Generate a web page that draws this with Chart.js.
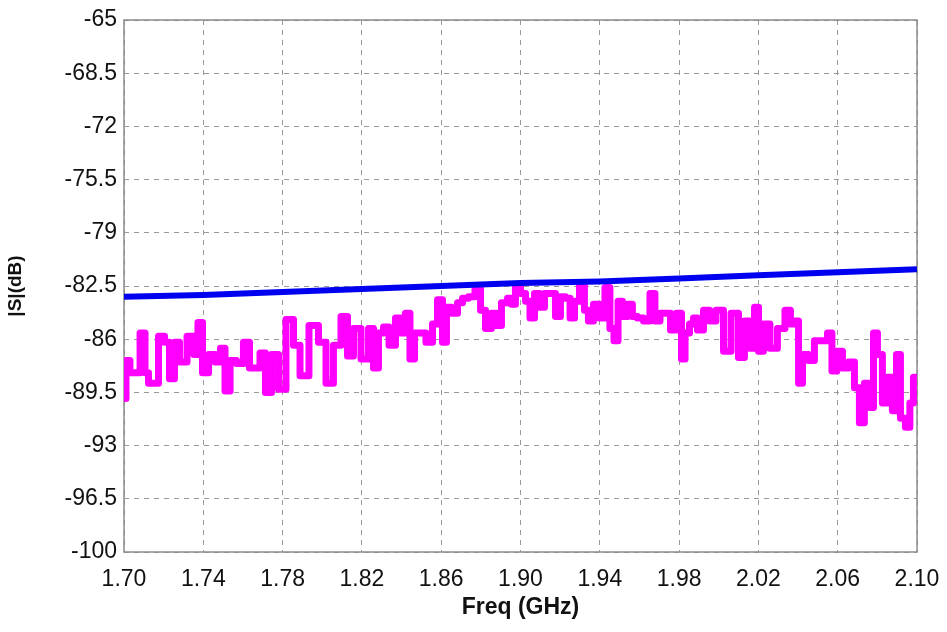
<!DOCTYPE html>
<html>
<head>
<meta charset="utf-8">
<script src="https://cdn.jsdelivr.net/npm/chart.js@4/dist/chart.umd.min.js"></script>
<style>
  html, body { margin: 0; padding: 0; background: #fff; }
  #wrap { width: 947px; height: 632px; }
</style>
</head>
<body>
<div id="wrap"><canvas id="sChart" width="947" height="632"></canvas></div>
<script>
// ── Data ──────────────────────────────────────────────────────────────────────
const xTicks = [1.70, 1.74, 1.78, 1.82, 1.86, 1.90, 1.94, 1.98, 2.02, 2.06, 2.10];
const yTicks = [-65, -68.5, -72, -75.5, -79, -82.5, -86, -89.5, -93, -96.5, -100];

// blue trace (read at the grid columns)
const blueFreq = [1.70, 1.74, 1.78, 1.82, 1.86, 1.90, 1.94, 1.98, 2.02, 2.06, 2.10];
const blueDb   = [-83.2, -83.1, -82.9, -82.7, -82.5, -82.3, -82.2, -82.0, -81.8, -81.6, -81.4];

// magenta trace
const pinkFreq = [
  1.7000, 1.7020, 1.7040, 1.7066, 1.7096, 1.7116, 1.7131, 1.7156, 1.7192, 1.7217,
  1.7242, 1.7267, 1.7293, 1.7343, 1.7363, 1.7383, 1.7409, 1.7444, 1.7474, 1.7499,
  1.7520, 1.7550, 1.7585, 1.7620, 1.7646, 1.7671, 1.7701, 1.7726, 1.7762, 1.7797,
  1.7837, 1.7873, 1.7903, 1.7963, 1.7999, 1.8039, 1.8074, 1.8115, 1.8140, 1.8175,
  1.8216, 1.8251, 1.8266, 1.8301, 1.8317, 1.8357, 1.8382, 1.8407, 1.8432, 1.8453,
  1.8478, 1.8503, 1.8543, 1.8569, 1.8594, 1.8619, 1.8634, 1.8670, 1.8695, 1.8720,
  1.8755, 1.8786, 1.8811, 1.8836, 1.8871, 1.8886, 1.8922, 1.8947, 1.8962, 1.8987,
  1.9013, 1.9038, 1.9058, 1.9083, 1.9108, 1.9134, 1.9164, 1.9189, 1.9214, 1.9240,
  1.9260, 1.9285, 1.9310, 1.9335, 1.9350, 1.9386, 1.9411, 1.9441, 1.9461, 1.9482,
  1.9502, 1.9527, 1.9552, 1.9577, 1.9603, 1.9638, 1.9668, 1.9688, 1.9719, 1.9744,
  1.9769, 1.9804, 1.9820, 1.9840, 1.9865, 1.9880, 1.9905, 1.9941, 1.9966, 2.0006,
  2.0042, 2.0082, 2.0117, 2.0142, 2.0168, 2.0193, 2.0208, 2.0243, 2.0273, 2.0319,
  2.0349, 2.0374, 2.0395, 2.0410, 2.0435, 2.0470, 2.0495, 2.0536, 2.0561, 2.0581,
  2.0611, 2.0637, 2.0672, 2.0697, 2.0722, 2.0747, 2.0773, 2.0788, 2.0813, 2.0838,
  2.0863, 2.0889, 2.0904, 2.0929, 2.0954, 2.0974, 2.0990
];
const pinkDb = [
  -89.9, -87.4, -88.2, -88.2, -85.6, -88.2, -88.9, -88.9, -85.8, -86.2,
  -88.6, -86.2, -87.5, -85.8, -87.0, -84.9, -88.2, -87.0, -87.5, -86.6,
  -89.4, -87.4, -87.6, -86.2, -87.9, -87.9, -86.9, -89.5, -87.0, -89.3,
  -84.7, -86.4, -88.4, -85.1, -86.2, -88.9, -86.4, -84.5, -87.1, -85.3,
  -87.3, -85.3, -87.9, -85.6, -85.2, -86.4, -84.6, -85.6, -84.3, -87.3,
  -85.6, -85.6, -86.2, -85.0, -83.4, -86.2, -83.9, -84.3, -83.6, -83.3,
  -83.2, -82.7, -84.1, -85.3, -84.3, -85.1, -83.6, -83.3, -83.7, -82.6,
  -83.0, -83.5, -84.6, -83.0, -83.9, -83.0, -83.0, -84.5, -83.2, -83.3,
  -84.6, -83.5, -82.5, -84.1, -84.8, -83.7, -84.6, -82.6, -85.3, -86.1,
  -83.5, -84.5, -83.7, -84.5, -84.6, -84.8, -83.0, -84.8, -84.3, -84.3,
  -85.4, -84.3, -87.3, -85.6, -85.0, -84.6, -85.4, -84.1, -84.8, -84.1,
  -86.8, -84.3, -87.2, -84.8, -86.6, -83.9, -86.8, -85.0, -86.6, -85.3,
  -84.1, -85.0, -84.8, -88.9, -87.0, -87.4, -86.1, -86.1, -85.6, -88.1,
  -86.8, -87.9, -87.5, -89.2, -91.5, -88.9, -90.5, -85.6, -87.0, -90.2,
  -88.5, -90.7, -87.0, -91.2, -91.8, -90.2, -88.5
];

// ── Helpers ───────────────────────────────────────────────────────────────────
function pairs(xs, ys) {
    return xs.map((x, i) => ({ x, y: ys[i] }));
}

// solid frame round the plot area
const framePlugin = {
    id: "frame",
    beforeDatasetsDraw(chart) {
        const { ctx, chartArea: a } = chart;
        ctx.save();
        ctx.strokeStyle = "#8c8c8c";
        ctx.lineWidth = 1.5;
        ctx.setLineDash([]);
        ctx.strokeRect(a.left, a.top, a.right - a.left, a.bottom - a.top);
        ctx.restore();
    }
};

const FONT = "Liberation Sans, Arial, sans-serif";
const gridStyle = { color: "#9a9a9a", lineWidth: 1, drawTicks: false };
const axisBorder = { display: false, dash: [5, 5] };

// ── Chart ─────────────────────────────────────────────────────────────────────
new Chart(document.getElementById("sChart"), {
    type: "line",
    data: {
        datasets: [
            {
                label: "blue",
                data: pairs(blueFreq, blueDb),
                borderColor: "#0000f0",
                borderWidth: 6,
                pointRadius: 0,
                tension: 0,
            },
            {
                label: "magenta",
                data: pairs(pinkFreq, pinkDb),
                borderColor: "#ff00ff",
                borderWidth: 7,
                borderJoinStyle: "round",
                borderCapStyle: "round",
                stepped: "middle",
                pointRadius: 0,
            },
        ],
    },
    options: {
        responsive: false,
        animation: false,
        layout: { padding: { top: 20, right: 30, left: 0, bottom: 7 } },
        plugins: { legend: { display: false }, tooltip: { enabled: false } },
        scales: {
            x: {
                type: "linear",
                min: 1.70,
                max: 2.10,
                afterBuildTicks: s => { s.ticks = xTicks.map(v => ({ value: v })); },
                afterFit: s => { s.height = 73; s.paddingLeft = 0; s.paddingRight = 0; },
                border: axisBorder,
                grid: gridStyle,
                ticks: {
                    color: "#111",
                    padding: 14,
                    maxRotation: 0,
                    font: { family: FONT, size: 23 },
                    callback: v => Number(v).toFixed(2),
                },
                title: {
                    display: true,
                    text: "Freq (GHz)",
                    color: "#111",
                    padding: { top: 0 },
                    font: { family: FONT, size: 23, weight: "bold" },
                },
            },
            y: {
                min: -100,
                max: -65,
                afterBuildTicks: s => { s.ticks = yTicks.map(v => ({ value: v })); },
                afterFit: s => { s.width = 124; s.paddingTop = 0; s.paddingBottom = 0; },
                border: axisBorder,
                grid: gridStyle,
                ticks: {
                    color: "#111",
                    padding: 7,
                    font: { family: FONT, size: 23 },
                    callback: v => String(v),
                },
                title: {
                    display: true,
                    text: "|S|(dB)",
                    color: "#111",
                    padding: { bottom: 0 },
                    font: { family: FONT, size: 19, weight: "bold" },
                },
            },
        },
    },
    plugins: [framePlugin],
});
</script>
</body>
</html>
